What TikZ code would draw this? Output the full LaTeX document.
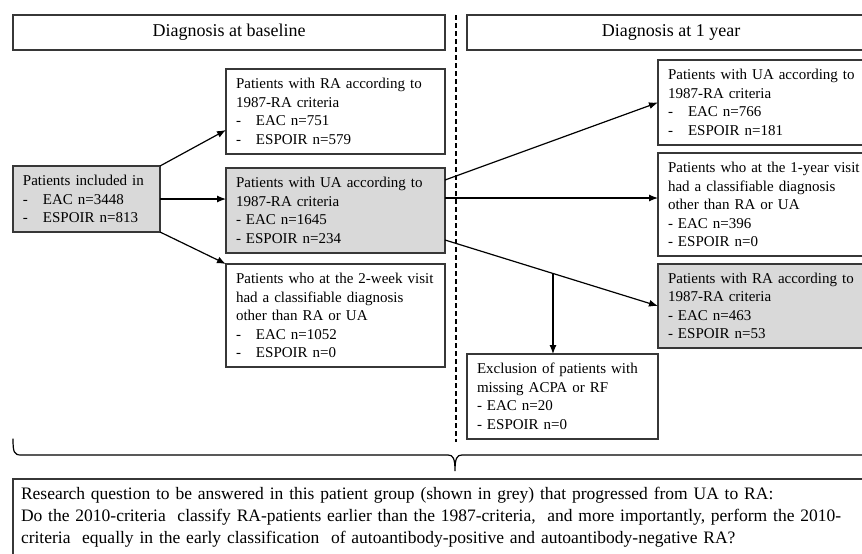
\documentclass[tikz,border=0pt]{standalone}
\usepackage{fontspec}
\setmainfont{Liberation Serif}
\usetikzlibrary{positioning, arrows.meta, calc}
\definecolor{boxgrey}{RGB}{217,217,217}
\definecolor{edgegrey}{RGB}{55,55,55}
\newcommand{\itm}{\makebox[20pt][l]{-}}
\tikzset{
  header/.style={draw=edgegrey, line width=1.3pt, anchor=north west, outer sep=0,
    inner sep=0, minimum height=35pt, font=\fontsize{18}{21}\selectfont},
  patbox/.style={draw=edgegrey, line width=1.3pt, anchor=north west, outer sep=0,
    align=left, inner xsep=10pt, inner ysep=0pt, font=\fontsize{15}{18.5}\selectfont},
  greybox/.style={patbox, fill=boxgrey},
  flow/.style={->, line width=1.2pt},
  divider/.style={line width=1.1pt, dash pattern=on 5pt off 3pt}
}

\begin{document}
\begin{tikzpicture}[x=1pt, y=-1pt, >={Latex[width=7pt,length=9pt]}]
\useasboundingbox (0,0) rectangle (862,554);

% column headers
\node [header, minimum width=432pt] (basehd) at (13,15) {Diagnosis at baseline};
\node [header, minimum width=408pt] (yearhd) at (467,15) {Diagnosis at 1 year};
\coordinate (divtop) at (456,15);
\coordinate (divbot) at (456,442);
\draw [divider] (divtop) -- (divbot);

% baseline
\node [greybox, text width=127pt, minimum height=66pt] (incl) at (13,166)
  {Patients included in\\\itm EAC n=3448\\\itm ESPOIR n=813};
\node [patbox, text width=199pt, minimum height=85pt] (ra0) at (226,69)
  {Patients with RA according to\\1987-RA criteria\\\itm EAC n=751\\\itm ESPOIR n=579};
\node [greybox, text width=199pt, minimum height=85pt] (ua0) at (226,168)
  {Patients with UA according to\\1987-RA criteria\\- EAC n=1645\\- ESPOIR n=234};
\node [patbox, text width=199pt, minimum height=103pt] (oth0) at (226,264)
  {Patients who at the 2-week visit\\had a classifiable diagnosis\\other than RA or UA\\\itm EAC n=1052\\\itm ESPOIR n=0};

\draw [flow] (incl.north east) -- ([yshift=-18.5pt]ra0.west);
\draw [flow] (incl.east) -- (incl.east -| ua0.west);
\draw [flow] (incl.south east) -- (oth0.north west);

% one year
\node [patbox, text width=194pt, minimum height=85pt] (ua1) at (658,60)
  {Patients with UA according to\\1987-RA criteria\\\itm EAC n=766\\\itm ESPOIR n=181};
\node [patbox, text width=194pt, minimum height=103pt] (oth1) at (658,153)
  {Patients who at the 1-year visit\\had a classifiable diagnosis\\other than RA or UA\\- EAC n=396\\- ESPOIR n=0};
\node [greybox, text width=194pt, minimum height=84pt] (ra1) at (658,264)
  {Patients with RA according to\\1987-RA criteria\\- EAC n=463\\- ESPOIR n=53};
\node [patbox, text width=171pt, minimum height=85pt] (excl) at (467,354)
  {Exclusion of patients with\\missing ACPA or RF\\- EAC n=20\\- ESPOIR n=0};

\coordinate (ua0up) at ([yshift=30.5pt]ua0.east);
\coordinate (ua0mid) at ([yshift=12.5pt]ua0.east);
\coordinate (ua0dn) at ([yshift=-29.5pt]ua0.east);
\draw [flow] (ua0up) -- (ua1.west);
\draw [flow] (ua0mid) -- (ua0mid -| oth1.west);
\draw [flow] (ua0dn) -- (ra1.west);
\coordinate (split) at ($(ua0dn)!0.507!(ra1.west)$);
\draw [flow] (split) -- (split |- excl.north);

% brace and research question
\coordinate (brl) at (13,439);
\coordinate (brtip) at (455,471);
\draw [line width=1.2pt, line cap=round] (brl) .. controls (13,452) and (14,455) .. (21,455)
  -- (448,455) .. controls (453,455) and (brtip |- 0,458) .. (brtip)
  .. controls (brtip |- 0,458) and (457,455) .. (462,455) -- (900,455);
\node [patbox, text width=880pt, inner xsep=8pt, inner ysep=8pt, font=\fontsize{17.5}{22}\selectfont] (quest) at (13,479)
  {Research question to be answered in this patient group (shown in grey) that progressed from UA to RA:\\
   Do the 2010-criteria \ classify RA-patients earlier than the 1987-criteria, \ and more importantly, perform the 2010-\\
   criteria \ equally in the early classification \ of autoantibody-positive and autoantibody-negative RA?};

\end{tikzpicture}
\end{document}
